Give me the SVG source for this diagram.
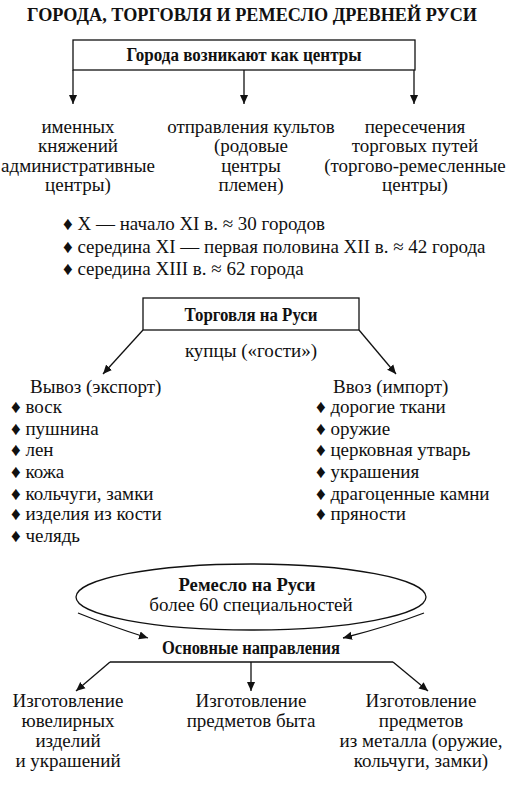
<svg xmlns="http://www.w3.org/2000/svg" width="508" height="800" viewBox="0 0 508 800" font-family="Liberation Serif, serif" font-size="19">
<defs>
<style>
text{fill:#111}
.b{font-weight:bold}
.c{text-anchor:middle}
.ln{stroke:#111;stroke-width:1.3;fill:none}
</style>
<marker id="ah" viewBox="0 0 10 10" refX="10" refY="5" markerWidth="9" markerHeight="9" orient="auto" markerUnits="userSpaceOnUse">
<path d="M0,0.5 L10,5 L0,9.5 Z" fill="#111"/>
</marker>
</defs>
<rect width="508" height="800" fill="#fff"/>
<text id="title" class="b c" x="252" y="21" font-size="18.5" textLength="450" lengthAdjust="spacingAndGlyphs">ГОРОДА, ТОРГОВЛЯ И РЕМЕСЛО ДРЕВНЕЙ РУСИ</text>

<g id="cities-box">
<rect x="73" y="40" width="342" height="30" class="ln"/>
<text class="b c" x="244" y="61" font-size="18" textLength="235" lengthAdjust="spacingAndGlyphs">Города возникают как центры</text>
</g>
<g id="col1">
<text class="c" x="78" y="133">именных</text>
<text class="c" x="78" y="152">княжений</text>
<text class="c" x="78" y="172">административные</text>
<text class="c" x="78" y="191">центры)</text>
</g>
<g id="col2">
<text class="c" x="251" y="133">отправления культов</text>
<text class="c" x="251" y="152">(родовые</text>
<text class="c" x="251" y="172">центры</text>
<text class="c" x="251" y="191">племен)</text>
</g>
<g id="col3">
<text class="c" x="415" y="133">пересечения</text>
<text class="c" x="415" y="152">торговых путей</text>
<text class="c" x="415" y="172">(торгово-ремесленные</text>
<text class="c" x="415" y="191">центры)</text>
</g>
<g id="counts">
<text x="63" y="230">♦ X — начало XI в. ≈ 30 городов</text>
<text x="63" y="253">♦ середина XI — первая половина XII в. ≈ 42 города</text>
<text x="63" y="275">♦ середина XIII в. ≈ 62 города</text>
</g>

<g id="trade-box">
<rect x="143" y="298" width="216" height="32" class="ln"/>
<text class="b c" x="251" y="321" font-size="18" textLength="133" lengthAdjust="spacingAndGlyphs">Торговля на Руси</text>
</g>
<text id="merchants" class="c" x="251" y="357">купцы («гости»)</text>
<g id="export">
<text x="30" y="393">Вывоз (экспорт)</text>
<text x="11" y="413">♦ воск</text>
<text x="11" y="435">♦ пушнина</text>
<text x="11" y="456">♦ лен</text>
<text x="11" y="478">♦ кожа</text>
<text x="11" y="500">♦ кольчуги, замки</text>
<text x="11" y="520">♦ изделия из кости</text>
<text x="11" y="542">♦ челядь</text>
</g>
<g id="import">
<text x="333" y="393">Ввоз (импорт)</text>
<text x="316" y="413">♦ дорогие ткани</text>
<text x="316" y="435">♦ оружие</text>
<text x="316" y="456">♦ церковная утварь</text>
<text x="316" y="478">♦ украшения</text>
<text x="316" y="500">♦ драгоценные камни</text>
<text x="316" y="520">♦ пряности</text>
</g>

<g id="craft">
<ellipse cx="251" cy="597" rx="175" ry="33" class="ln"/>
<text class="b c" x="247" y="591" font-size="18" textLength="137" lengthAdjust="spacingAndGlyphs">Ремесло на Руси</text>
<text class="c" x="251" y="611">более 60 специальностей</text>
</g>
<text id="directions" class="b c" x="251" y="654" font-size="18" textLength="178" lengthAdjust="spacingAndGlyphs">Основные направления</text>
<g id="dir1">
<text class="c" x="68" y="707">Изготовление</text>
<text class="c" x="68" y="727">ювелирных</text>
<text class="c" x="68" y="747">изделий</text>
<text class="c" x="68" y="767">и украшений</text>
</g>
<g id="dir2">
<text class="c" x="251" y="707">Изготовление</text>
<text class="c" x="251" y="727">предметов быта</text>
</g>
<g id="dir3">
<text class="c" x="421" y="707">Изготовление</text>
<text class="c" x="421" y="727">предметов</text>
<text class="c" x="421" y="747">из металла (оружие,</text>
<text class="c" x="421" y="767">кольчуги, замки)</text>
</g>

<g id="connectors" class="ln">
<line x1="73" y1="70" x2="73" y2="104" marker-end="url(#ah)"/>
<line x1="244" y1="70" x2="244" y2="104" marker-end="url(#ah)"/>
<line x1="414" y1="70" x2="414" y2="104" marker-end="url(#ah)"/>
<line x1="143" y1="330" x2="103" y2="374" marker-end="url(#ah)"/>
<line x1="359" y1="330" x2="396" y2="374" marker-end="url(#ah)"/>
<path d="M78,613 Q110,626 148,638" marker-end="url(#ah)"/>
<path d="M424,613 Q390,626 343,638" marker-end="url(#ah)"/>
<line x1="110" y1="662" x2="393" y2="662"/>
<line x1="110" y1="662" x2="76" y2="691" marker-end="url(#ah)"/>
<line x1="251" y1="662" x2="251" y2="691" marker-end="url(#ah)"/>
<line x1="393" y1="662" x2="428" y2="691" marker-end="url(#ah)"/>
</g>
</svg>
